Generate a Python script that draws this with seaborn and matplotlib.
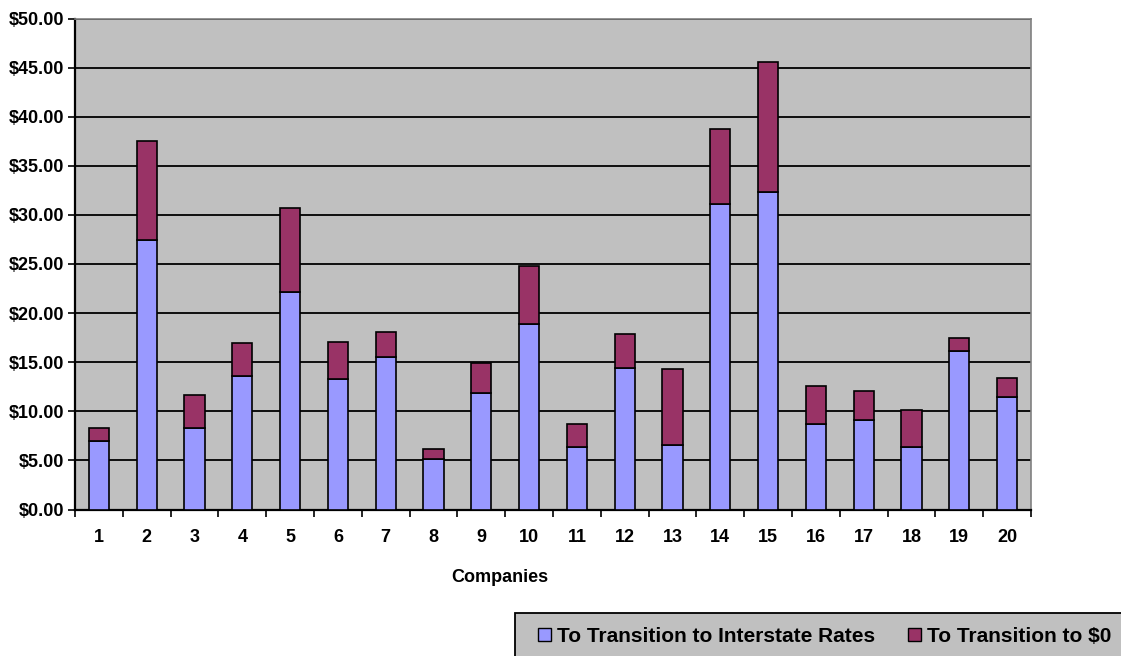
import matplotlib
matplotlib.use("Agg")
import matplotlib.pyplot as plt
import seaborn as sns
import pandas as pd
from matplotlib.patches import Patch, Rectangle
from matplotlib.ticker import FuncFormatter, MultipleLocator

# Per-company cost components (dollars)
companies = [str(i) for i in range(1, 21)]
to_interstate = [6.95, 27.45, 8.32, 13.59, 22.15, 13.25, 15.56, 5.16, 11.82, 18.89,
                 6.39, 14.37, 6.59, 31.15, 32.30, 8.73, 9.14, 6.39, 16.13, 11.48]
to_zero = [1.37, 10.05, 3.30, 3.33, 8.55, 3.84, 2.48, 1.02, 3.09, 5.94,
           2.31, 3.50, 7.74, 7.57, 13.25, 3.87, 2.88, 3.70, 1.33, 1.90]
series_names = ["To Transition to Interstate Rates", "To Transition to $0"]
colors = ["#9999FF", "#993366"]

df = pd.DataFrame({"company": companies, "interstate": to_interstate, "zero": to_zero})

sns.set_theme(style="white")
plt.rcParams["font.family"] = ["Liberation Sans", "DejaVu Sans"]
plt.rcParams["font.weight"] = "bold"
plt.rcParams["text.color"] = "black"
plt.rcParams["xtick.color"] = "black"
plt.rcParams["ytick.color"] = "black"
plt.rcParams["axes.labelcolor"] = "black"

W, H = 1121, 656
fig = plt.figure(figsize=(W / 100, H / 100), dpi=100)
ax = fig.add_axes([75 / W, 1 - 509.5 / H, (1031 - 75) / W, (509.5 - 18.5) / H])
ax.set_facecolor("#C0C0C0")

sns.barplot(data=df, x="company", y="interstate", color=colors[0], width=0.42,
            edgecolor="black", linewidth=1.2, saturation=1, ax=ax, zorder=3)
sns.barplot(data=df, x="company", y="zero", bottom=df["interstate"], color=colors[1],
            width=0.42, edgecolor="black", linewidth=1.2, saturation=1, ax=ax, zorder=3)

ax.set_ylim(0, 50)
ax.set_xlim(-0.5, len(companies) - 0.5)
ax.yaxis.set_major_locator(MultipleLocator(5))
ax.yaxis.set_major_formatter(FuncFormatter(lambda v, p: f"${v:.2f}"))
ax.grid(axis="y", color="black", linewidth=1.3, zorder=0)
ax.set_axisbelow(True)

# Category ticks sit between bars; labels stay centred under each bar
ax.set_xticks(range(len(companies)))
ax.set_xticklabels(companies)
ax.set_xticks([i - 0.5 for i in range(len(companies) + 1)], minor=True)
ax.tick_params(axis="x", which="major", length=0, pad=14, labelsize=13, labelcolor="black")
ax.tick_params(axis="x", which="minor", length=5, width=1.2, color="black", direction="out", bottom=True)
ax.tick_params(axis="y", which="major", length=5, width=1.2, color="black", direction="out",
               left=True, labelsize=13, pad=3, labelcolor="black")
for lbl in ax.get_xticklabels() + ax.get_yticklabels():
    lbl.set_fontweight("bold")

ax.set_xlabel("")
ax.set_ylabel("")
for side in ["left", "bottom"]:
    ax.spines[side].set_color("black")
    ax.spines[side].set_linewidth(1.6)
for side in ["top", "right"]:
    ax.spines[side].set_color("#808080")
    ax.spines[side].set_linewidth(1.2)
    ax.spines[side].set_visible(True)

fig.text(500 / W, 1 - 578 / H, "Companies", ha="center", va="center",
         fontsize=13, fontweight="bold", color="black")

# Legend panel running off the lower-right corner
fig.patches.append(Rectangle((515 / W, -0.05), (W + 20 - 515) / W, (1 - 613 / H) + 0.05,
                             transform=fig.transFigure, facecolor="#C0C0C0",
                             edgecolor="black", linewidth=1.3, zorder=1))
handles = [Patch(facecolor=c, edgecolor="black", linewidth=1.0) for c in colors]
leg = fig.legend(handles, series_names, ncol=2, loc="center left",
                 bbox_to_anchor=(538 / W, 1 - 636 / H), frameon=False,
                 prop={"size": 15, "weight": "bold"}, handlelength=0.6, handleheight=0.6,
                 handletextpad=0.3, columnspacing=1.6, borderpad=0, borderaxespad=0)
leg.set_zorder(2)

fig.savefig("out.png", dpi=100)
